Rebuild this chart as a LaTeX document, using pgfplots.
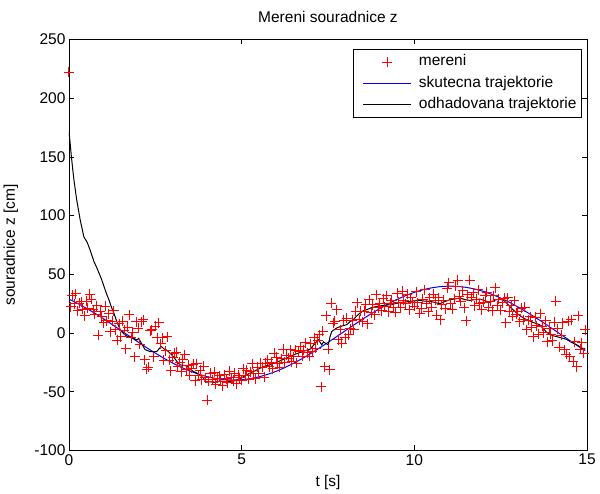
\documentclass[border=0pt]{standalone}
\usepackage{fontspec}
\setmainfont{Liberation Sans}
\usepackage{pgfplots}
\usepackage{pgfplotstable}
\pgfplotsset{compat=1.18}
\newcommand\f{\fontsize{15.5bp}{18bp}\selectfont}
% stroke colour written straight into the page stream
\makeatletter
\newcommand\pdfstroke[1]{\pgfsys@invoke{#1}}
\makeatother
\pgfplotsset{
  legline/.style={legend image code/.code={\path (-6.7bp,0bp); \begin{scope}\pdfstroke{#1}\draw[line width=1bp] (0bp,0bp) -- (48bp,0bp);\end{scope}}},
  legmark/.style={legend image code/.code={\path (-6.7bp,0bp) (48bp,0bp); \begin{scope}\pdfstroke{1 0 0 RG}\draw[line width=1bp] (19bp,0bp) -- (29bp,0bp) (24bp,-5bp) -- (24bp,5bp);\end{scope}}},
}

% measured z coordinate
\pgfplotstableread{
t y
0.00 222
0.05 22.6
0.10 32.2
0.15 24.8
0.20 33.4
0.25 19
0.30 25.4
0.35 26.8
0.40 20.2
0.45 14.6
0.50 27
0.55 21.2
0.60 33
0.65 28.6
0.70 19.8
0.75 16
0.80 23.2
0.85 -2
0.90 18.6
0.95 13.8
1.00 9
1.05 22.8
1.10 10.6
1.15 16.4
1.20 1.2
1.25 10
1.30 19
1.35 3
1.40 -6
1.45 8
1.50 -3
1.55 10.2
1.60 2.4
1.65 -13.4
1.70 4.8
1.75 15.6
1.80 -3.8
1.85 0.4
1.90 -20
1.95 9.8
2.00 4
2.05 -9.6
2.10 9.7
2.15 11.4
2.20 -22.8
2.25 -31
2.30 -29
2.35 2
2.40 3
2.45 -20
2.50 6
2.55 -3.8
2.60 8.8
2.65 -9
2.70 -4
2.75 -23
2.80 -15
2.85 -3
2.90 -23
2.95 -32
3.00 -21
3.05 -17.2
3.10 -16.4
3.15 -28.6
3.20 -24.8
3.25 -33
3.30 -22.8
3.35 -18.6
3.40 -31.4
3.45 -27.2
3.50 -36
3.55 -29.8
3.60 -26.6
3.65 -40.4
3.70 -26.2
3.75 -36
3.80 -31.8
3.85 -39.6
3.90 -28.4
3.95 -38.2
4.00 -57
4.05 -41.2
4.10 -34.4
4.15 -39.6
4.20 -33.3
4.25 -43.5
4.30 -38.5
4.35 -36.5
4.40 -41
4.45 -45
4.50 -35.5
4.55 -39
4.60 -42.5
4.65 -32.5
4.70 -38
4.75 -40.5
4.80 -34.1
4.85 -43.2
4.90 -35.8
4.95 -37.9
5.00 -40
5.05 -30.4
5.10 -36.4
5.15 -31.6
5.20 -39.4
5.25 -32.8
5.30 -26.2
5.35 -34.6
5.40 -38.8
5.45 -29.2
5.50 -34.6
5.55 -25.6
5.60 -29.2
5.65 -37.6
5.70 -25.6
5.75 -22.6
5.80 -28.6
5.85 -25
5.90 -30.4
5.95 -17.2
6.00 -20.8
6.05 -26.2
6.10 -29.2
6.15 -22
6.20 -13.6
6.25 -25
6.30 -19
6.35 -21.4
6.40 -14.2
6.45 -24.4
6.50 -20.2
6.55 -14.8
6.60 -25.6
6.65 -15.4
6.70 -11.8
6.75 -19.6
6.80 -14.8
6.85 -8.2
6.90 -16.6
6.95 -19.6
7.00 -9
7.05 -16
7.10 -4
7.15 -13
7.20 -6
7.25 -1.4
7.30 -45.5
7.35 1.4
7.40 -28.5
7.45 14.8
7.50 -13.7
7.55 -31.3
7.60 25.6
7.65 8.5
7.70 9.9
7.75 19.9
7.80 -5.7
7.85 3
7.90 -8.5
7.95 11
8.00 -4
8.05 12.5
8.10 -1.4
8.15 3.7
8.20 11
8.25 3
8.30 18.4
8.35 25.7
8.40 11.4
8.45 18.7
8.50 9.8
8.55 18.5
8.60 24.5
8.65 8
8.70 28.4
8.75 17.3
8.80 24.2
8.85 15.8
8.90 32.6
8.95 21.5
9.00 25
9.05 19.2
9.10 29.4
9.15 22.6
9.20 31.8
9.25 18
9.30 25.4
9.35 27.8
9.40 22.2
9.45 17.6
9.50 34
9.55 26.2
9.60 21.4
9.65 35.6
9.70 27.8
9.75 25
9.80 33
9.85 20
9.90 30
9.95 26
10.00 23
10.05 35
10.10 26
10.15 17
10.20 21
10.25 29
10.30 37
10.35 25
10.40 18
10.45 30
10.50 22
10.55 33
10.60 28
10.65 15
10.70 30
10.75 11.3
10.80 24
10.85 28
10.90 20.5
10.95 38
11.00 42.7
11.05 24.8
11.10 20.2
11.15 29.2
11.20 39.8
11.25 44.9
11.30 31.2
11.35 27.2
11.40 36
11.45 21.6
11.50 10.5
11.55 32.8
11.60 44.9
11.65 30.4
11.70 34.4
11.75 23.2
11.80 28.8
11.85 36.8
11.90 24.8
11.95 20
12.00 26.4
12.05 31.8
12.10 34.8
12.15 21.8
12.20 27.2
12.25 19
12.30 31.6
12.35 38.4
12.40 23.2
12.45 28.6
12.50 19.6
12.55 25.8
12.60 29.6
12.65 9
12.70 30
12.75 18.6
12.80 23.2
12.85 14.2
12.90 27.6
12.95 16.2
13.00 18.7
13.05 9.6
13.10 21.2
13.15 11.2
13.20 21.9
13.25 2.9
13.30 11.1
13.35 13.9
13.40 5
13.45 -3
13.50 13.3
13.55 6.2
13.60 -0.9
13.65 16.3
13.70 5.6
13.75 0.3
13.80 10.3
13.85 -7.6
13.90 4.2
13.95 -1.1
14.00 -6.5
14.05 9.4
14.10 27
14.15 3.8
14.20 -12.2
14.25 -1.8
14.30 8.6
14.35 -14.2
14.40 -17.9
14.45 9.9
14.50 -20
14.55 11.3
14.60 -24.2
14.65 -7.5
14.70 -28.5
14.75 14.8
14.80 -13.6
14.85 -8.1
14.90 -17
14.95 2.8
}\mereni

% true trajectory
\pgfplotstableread{
t y
0.00 28.97
0.25 25.24
0.50 21.19
0.75 16.84
1.00 12.23
1.25 7.30
1.50 2.33
1.75 -2.66
2.00 -7.62
2.25 -12.45
2.50 -17.10
2.75 -21.47
3.00 -25.51
3.25 -29.16
3.50 -32.34
3.75 -35.02
4.00 -37.16
4.25 -38.71
4.50 -39.67
4.75 -40.00
5.00 -39.71
5.25 -38.80
5.50 -37.28
5.75 -35.18
6.00 -32.54
6.25 -29.38
6.50 -25.77
6.75 -21.75
7.00 -17.40
7.25 -12.77
7.50 -7.95
7.75 -3.00
8.00 2.00
8.25 6.96
8.50 11.82
8.75 16.49
9.00 20.91
9.25 24.99
9.50 28.69
9.75 31.94
10.00 34.70
10.25 36.91
10.50 38.54
10.75 39.57
11.00 39.99
11.25 39.78
11.50 38.95
11.75 37.52
12.00 35.50
12.25 32.92
12.50 29.83
12.75 26.26
13.00 22.31
13.25 17.95
13.50 13.40
13.75 8.60
14.00 3.66
14.25 -1.34
14.50 -6.31
14.75 -11.23
14.95 -14.96
}\skutecna

% estimated trajectory
\pgfplotstableread{
t y
0.00 172
0.07 150
0.14 131
0.22 114
0.32 97
0.43 82
0.53 77
0.62 70
0.72 61
0.80 56
0.87 51
0.94 46
1.01 40
1.08 34
1.16 28
1.23 22
1.30 17
1.40 8.5
1.50 2
1.60 -1
1.69 -2.9
1.80 -3.5
1.88 -4.5
1.96 -6
2.02 -4.5
2.07 -7.2
2.20 -14
2.34 -15.7
2.45 -16
2.54 -15.7
2.62 -13
2.68 -11.5
2.75 -13.5
2.83 -14.5
2.92 -17
3.02 -20
3.12 -24
3.21 -27
3.30 -27.5
3.41 -28
3.50 -30.5
3.60 -32.7
3.70 -34
3.79 -35.6
3.88 -38
3.98 -41.8
4.10 -41.5
4.20 -42
4.27 -41.8
4.40 -41
4.56 -41.3
4.70 -41
4.85 -40.4
5.00 -38
5.14 -35.6
5.24 -34.1
5.40 -32
5.53 -30
5.70 -28
5.82 -27
6.00 -25
6.20 -22.5
6.40 -20
6.60 -17.5
6.80 -15.5
6.98 -13.7
7.06 -11
7.13 -8.6
7.22 -5.7
7.32 -10
7.37 -7.5
7.42 -8.6
7.51 -10
7.56 -3
7.61 1.4
7.75 4.3
7.90 6
8.04 7.1
8.13 9.5
8.23 11.3
8.33 14.5
8.43 17.1
8.52 19
8.62 19.9
8.75 21.5
8.91 22.7
9.10 23.5
9.30 24.1
9.45 25
9.59 26.1
9.75 26.5
9.88 27
10.03 27.5
10.17 27.8
10.30 27.2
10.46 27
10.60 26
10.74 25
10.88 26.8
11.03 28.4
11.17 29
11.32 29.9
11.46 28.5
11.61 27.8
11.75 28.5
11.90 29
12.05 27.5
12.19 26.1
12.33 28
12.47 29
12.57 28
12.67 25.6
12.80 21.5
12.96 17.1
13.10 14
13.25 11.3
13.45 9
13.63 7.1
13.73 4
13.83 0.6
13.93 -1
14.02 -2.3
14.12 -3
14.21 -3.7
14.31 -4.5
14.41 -5.4
14.50 -7
14.60 -8.6
14.70 -10
14.78 -11.5
14.86 -12.8
14.95 -13.5
}\odhad

\begin{document}
\begin{tikzpicture}
\begin{axis}[
  scale only axis,
  width=518bp, height=411bp,
  xmin=0, xmax=15, ymin=-100, ymax=250,
  xtick={0,5,10,15},
  ytick={-100,-50,0,50,100,150,200,250},
  tick align=inside,
  major tick length=5bp,
  axis line style={line width=0.8bp},
  every tick/.style={line width=0.8bp, black},
  /pgf/number format/assume math mode=true,
  tick label style={font=\f},
  xticklabel style={inner sep=3.5bp},
  title={Mereni souradnice z},
  title style={font=\f, at={(axis description cs:0.5,1)}, anchor=base, yshift=11.2bp},
  xlabel={t [s]},
  xlabel style={font=\f, at={(axis description cs:0.5,-0.079)}, anchor=center},
  ylabel={souradnice z [cm]},
  ylabel style={font=\f, at={(axis description cs:-0.112,0.5)}, anchor=center},
  legend cell align=left,
  legend style={font=\f, at={(axis description cs:1,1)}, anchor=north east,
    xshift=-5bp, yshift=-9.5bp, draw=black, line width=0.8bp,
    inner xsep=3bp, inner ysep=3.5bp, row sep=2.7bp, column sep=5bp,
    nodes={inner sep=2bp, text height=11bp, text depth=3.5bp}},
]
% each measured point gets its own red stroke setting
\addplot[only marks, mark=+, mark size=5bp, scatter, point meta=\thisrow{t},
  scatter/@pre marker code/.code={\pgfscope\pdfstroke{1 0 0 RG 1 0 0 rg}\pgfsetlinewidth{1bp}},
  scatter/@post marker code/.code={\endpgfscope},
  legmark]
  table[x=t,y=y] {\mereni};
\addlegendentry{mereni}
\addplot[draw=blue, line width=1bp, mark=none, legline={0 0 1 RG}]
  table[x=t,y=y] {\skutecna};
\addlegendentry{skutecna trajektorie}
\addplot[draw=black, line width=1bp, mark=none, legline={0 0 0 RG}]
  table[x=t,y=y] {\odhad};
\addlegendentry{odhadovana trajektorie}
\end{axis}
\path (-69bp,-41.5bp) rectangle (531bp,450.5bp);
\end{tikzpicture}
\end{document}
